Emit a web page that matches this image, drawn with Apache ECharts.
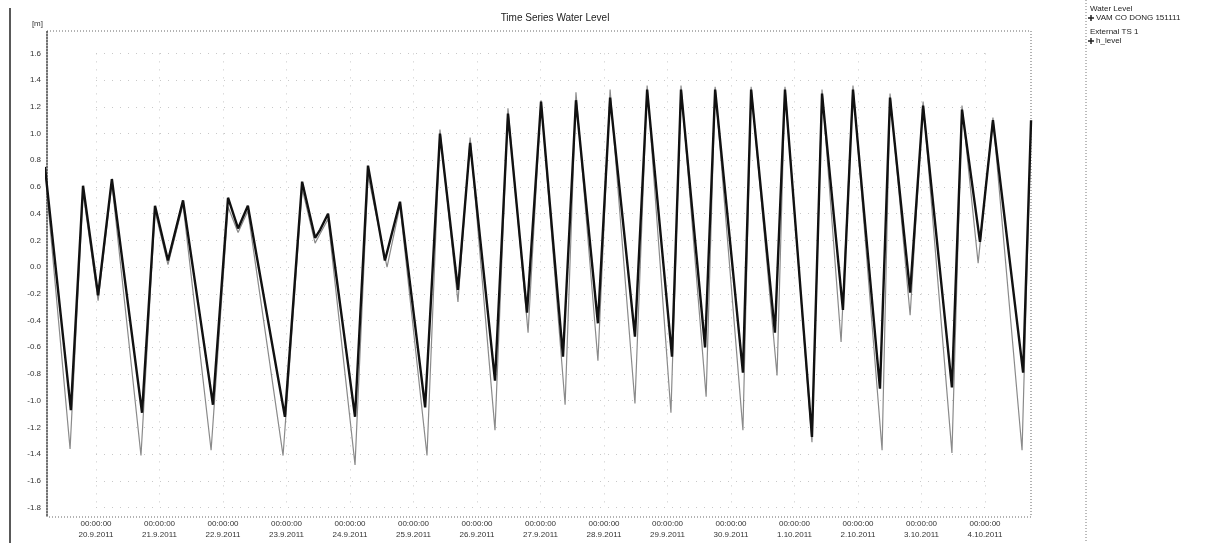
<!DOCTYPE html>
<html>
<head>
<meta charset="utf-8">
<script src="https://cdn.jsdelivr.net/npm/echarts@6/dist/echarts.min.js"></script>
<style>
html,body{margin:0;padding:0;background:#fff;}
#chart{width:1213px;height:543px;}
</style>
</head>
<body>
<div id="chart"></div>
<script>
// Hours since 20.9.2011 00:00 and water level [m]
var levelHours = [-19.3,-9.5,-4.9,0.8,6.0,17.4,22.3,27.2,32.9,44.2,49.9,53.7,57.4,71.4,77.9,82.8,84.7,87.7,97.9,102.8,109.2,114.9,124.4,130.0,136.8,141.4,150.8,155.7,162.9,168.2,176.5,181.4,189.7,194.3,203.7,208.3,217.7,221.1,230.2,234.0,244.5,247.6,256.6,260.4,270.6,274.4,282.3,286.1,296.3,300.1,307.7,312.6,323.5,327.3,334.1,339.0,350.4,353.4];
var levelValues = [0.75,-1.07,0.61,-0.21,0.66,-1.09,0.46,0.05,0.50,-1.03,0.52,0.29,0.46,-1.12,0.64,0.22,0.28,0.40,-1.12,0.76,0.05,0.49,-1.05,1.00,-0.17,0.93,-0.85,1.15,-0.34,1.24,-0.67,1.25,-0.42,1.27,-0.52,1.33,-0.67,1.33,-0.60,1.33,-0.79,1.33,-0.49,1.33,-1.27,1.30,-0.32,1.33,-0.91,1.27,-0.19,1.21,-0.90,1.18,0.19,1.10,-0.79,1.10];

var extHours = [-19.3,-9.8,-4.9,0.8,6.0,17.0,22.3,27.2,32.9,43.5,49.9,53.7,57.4,70.7,77.9,82.8,84.7,87.7,97.9,102.8,110.0,114.9,125.1,130.0,136.8,141.4,150.8,155.7,163.3,168.2,177.3,181.4,189.7,194.3,203.7,208.3,217.3,221.1,230.6,234.0,244.5,247.6,257.4,260.4,270.6,274.4,281.6,286.1,297.1,300.1,307.7,312.6,323.5,327.3,333.4,339.0,350.0,353.4];
var extValues = [0.73,-1.36,0.56,-0.25,0.63,-1.41,0.42,0.02,0.47,-1.37,0.45,0.26,0.42,-1.41,0.59,0.18,0.25,0.36,-1.48,0.69,0.00,0.46,-1.41,1.03,-0.26,0.97,-1.22,1.19,-0.49,1.25,-1.03,1.31,-0.70,1.33,-1.02,1.36,-1.09,1.36,-0.97,1.35,-1.22,1.35,-0.81,1.35,-1.31,1.33,-0.56,1.36,-1.37,1.30,-0.36,1.24,-1.39,1.21,0.03,1.12,-1.37,1.08];

var dayLabels = ['20.9.2011','21.9.2011','22.9.2011','23.9.2011','24.9.2011','25.9.2011','26.9.2011','27.9.2011','28.9.2011','29.9.2011','30.9.2011','1.10.2011','2.10.2011','3.10.2011','4.10.2011'];

var seriesNames = ['VAM CO DONG 151111', 'h_level'];

// visible plot window (frame) in hours / metres
var frameX = [-18.52, 353.38];
var frameY = [-1.870, 1.768];

function pairs(h, v){ var out=[]; for(var i=0;i<h.length;i++) out.push([h[i], v[i]]); return out; }

var chart = echarts.init(document.getElementById('chart'), null, {renderer:'canvas'});
var FONT = 'Liberation Sans, Arial, sans-serif';
var plusIcon = 'path://M3,0h2v3h3v2h-3v3h-2v-3h-3v-2h3z';
var gridLine = {show:true, lineStyle:{color:'#c8c8c8', type:[1,7], width:1}};

chart.setOption({
  backgroundColor:'#ffffff',
  animation:false,
  title:{
    text:'Time Series Water Level',
    left:550, top:8, textAlign:'center',
    textStyle:{fontFamily:FONT, fontSize:10, fontWeight:'normal', color:'#222'}
  },
  legend:[
    {data:[seriesNames[0]], left:1088, top:14, padding:0, orient:'vertical', itemWidth:6, itemHeight:6, icon:plusIcon,
     textStyle:{fontFamily:FONT, fontSize:8, color:'#222', padding:[0,0,0,-3]}},
    {data:[seriesNames[1]], left:1088, top:37, padding:0, orient:'vertical', itemWidth:6, itemHeight:6, icon:plusIcon,
     textStyle:{fontFamily:FONT, fontSize:8, color:'#222', padding:[0,0,0,-3]}}
  ],
  grid:[
    {left:47, right:182, top:31, bottom:26, containLabel:false},
    {left:96, right:228, top:53.4, bottom:35.4, containLabel:false}
  ],
  xAxis:[
    {gridIndex:0, type:'value', min:frameX[0], max:frameX[1], show:false},
    {gridIndex:1, type:'value', min:0, max:336, interval:24,
     axisLine:{show:false}, axisTick:{show:false},
     axisLabel:{
       margin:11, fontFamily:FONT, fontSize:8, color:'#333', lineHeight:11,
       formatter:function(v){ var i=Math.round(v/24); return '00:00:00\n'+(dayLabels[i]||''); }
     },
     splitLine:gridLine}
  ],
  yAxis:[
    {gridIndex:0, type:'value', min:frameY[0], max:frameY[1], show:false},
    {gridIndex:1, type:'value', min:-1.8, max:1.6, interval:0.2,
     name:'[m]', nameLocation:'end', nameGap:26,
     nameTextStyle:{fontFamily:FONT, fontSize:8, color:'#333', align:'right', padding:[0,53,0,0]},
     axisLine:{show:false}, axisTick:{show:false},
     axisLabel:{margin:55, fontFamily:FONT, fontSize:8, color:'#333', formatter:function(v){return v.toFixed(1);}},
     splitLine:gridLine}
  ],
  graphic:[
    {type:'rect', shape:{x:47, y:31, width:984, height:486}, silent:true, z:1,
     style:{fill:null, stroke:'#666', lineWidth:1, lineDash:[1,2]}},
    {type:'line', shape:{x1:47, y1:31, x2:47, y2:517}, silent:true, z:1,
     style:{stroke:'#444', lineWidth:1.5, lineDash:[2,1]}},
    {type:'line', shape:{x1:10, y1:8, x2:10, y2:543}, silent:true,
     style:{stroke:'#222', lineWidth:1.5}},
    {type:'line', shape:{x1:1086, y1:0, x2:1086, y2:543}, silent:true,
     style:{stroke:'#777', lineWidth:1, lineDash:[1,2]}},
    {type:'text', left:1090, top:5, silent:true,
     style:{text:'Water Level', font:'8px '+FONT, fill:'#222'}},
    {type:'text', left:1090, top:28, silent:true,
     style:{text:'External TS 1', font:'8px '+FONT, fill:'#222'}}
  ],
  series:[
    {name:seriesNames[1], type:'line', xAxisIndex:0, yAxisIndex:0, data:pairs(extHours, extValues), showSymbol:false, z:2,
     lineStyle:{color:'#8a8a8a', width:1.2}, itemStyle:{color:'#222'}},
    {name:seriesNames[0], type:'line', xAxisIndex:0, yAxisIndex:0, data:pairs(levelHours, levelValues), showSymbol:false, z:3,
     lineStyle:{color:'#111', width:2.4}, itemStyle:{color:'#222'}}
  ]
});
</script>
</body>
</html>
